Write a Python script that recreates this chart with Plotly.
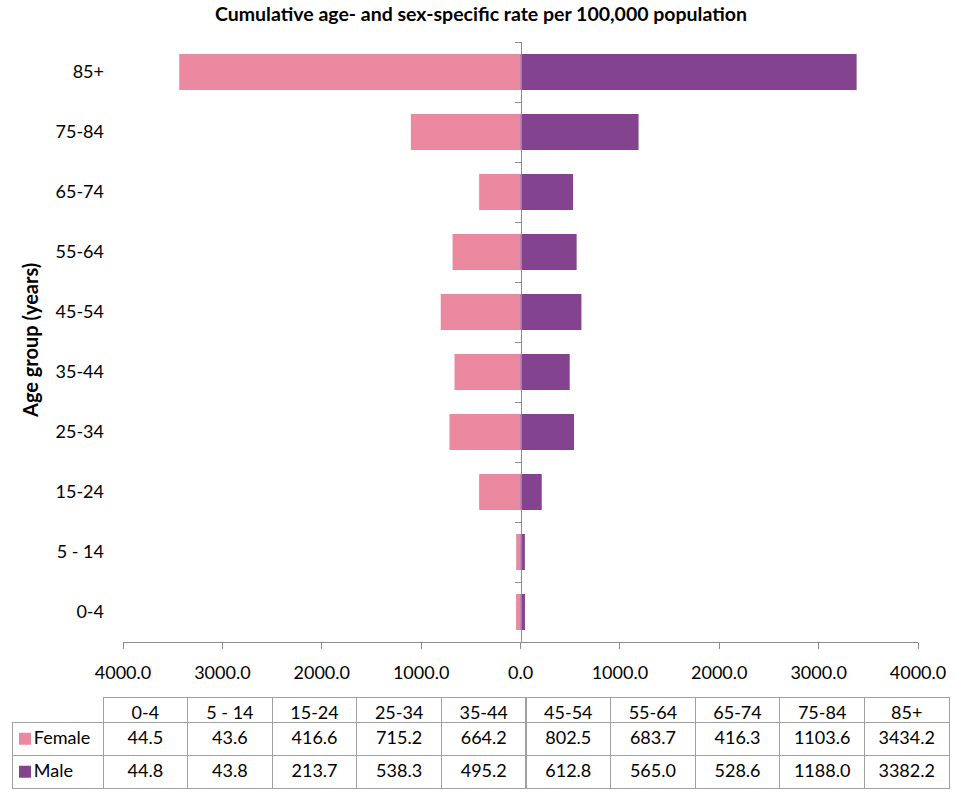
import plotly.graph_objects as go

categories = ["0-4", "5 - 14", "15-24", "25-34", "35-44", "45-54", "55-64", "65-74", "75-84", "85+"]
female = [44.5, 43.6, 416.6, 715.2, 664.2, 802.5, 683.7, 416.3, 1103.6, 3434.2]
male = [44.8, 43.8, 213.7, 538.3, 495.2, 612.8, 565.0, 528.6, 1188.0, 3382.2]
series_names = ["Female", "Male"]
x_ticks = [-4000, -3000, -2000, -1000, 0, 1000, 2000, 3000, 4000]

FEMALE_C = "#EA89A0"
MALE_C = "#84438E"
AXIS_C = "#8C8C8C"
GRID_C = "#A0A0A0"
FONT = "Lato"
W, H = 956, 795

pos = list(range(len(categories)))

fig = go.Figure()
# bars; legend keys (swatches only) sit in the table's first column
fig.add_trace(go.Bar(y=pos, x=[-v for v in female], orientation="h", marker_color=FEMALE_C,
                     marker_line_width=0, width=0.6, name=" ", xaxis="x", yaxis="y",
                     legend="legend", showlegend=True))
fig.add_trace(go.Bar(y=pos, x=male, orientation="h", marker_color=MALE_C,
                     marker_line_width=0, width=0.6, name=" ", xaxis="x", yaxis="y2",
                     legend="legend2", showlegend=True))

# Data table
col_w_label = 91
col_w = 84.6
ncat = len(categories)
pad = "\u00a0" * 3
label_col = [pad + n for n in series_names]
body_vals = [label_col] + [[f"{f:.1f}", f"{m:.1f}"] for f, m in zip(female, male)]
fig.add_trace(go.Table(
    domain=dict(x=[12 / W, 949 / W], y=[0, (H - 697) / H]),
    columnwidth=[col_w_label] + [col_w] * ncat,
    header=dict(values=[""] + categories, height=25,
                align="center",
                fill=dict(color=["rgba(0,0,0,0)"] + ["white"] * ncat),
                line=dict(color=GRID_C, width=[0] + [1] * ncat),
                font=dict(family=FONT, size=18, color="black")),
    cells=dict(values=body_vals, height=33,
               align=["left"] + ["center"] * ncat,
               fill=dict(color="white"),
               line=dict(color=GRID_C, width=1),
               font=dict(family=FONT, size=18, color="black")),
))

xdom = [123 / W, 918 / W]
ydom = [(H - 642) / H, (H - 42) / H]
legend_common = dict(xref="paper", yref="paper", xanchor="left", yanchor="middle",
                     bgcolor="rgba(0,0,0,0)", borderwidth=0,
                     font=dict(family=FONT, size=18, color="black"))
fig.update_layout(
    template="none",
    width=W, height=H,
    margin=dict(l=0, r=0, t=0, b=0, autoexpand=False),
    paper_bgcolor="white", plot_bgcolor="white",
    showlegend=True,
    barmode="overlay",
    font=dict(family=FONT, size=18, color="black"),
    legend=dict(x=5 / W, y=(H - 739) / H, **legend_common),
    legend2=dict(x=5 / W, y=(H - 772) / H, **legend_common),
    title=dict(text="<b>Cumulative age- and sex-specific rate per 100,000 population</b>",
               x=481 / W, xanchor="center", xref="container",
               y=1 - 14 / H, yanchor="middle", yref="container",
               font=dict(family=FONT, size=19.5, color="black")),
    xaxis=dict(domain=xdom, range=[-4000, 4000], tickvals=x_ticks,
               ticktext=[f"{abs(v):.1f}" for v in x_ticks],
               showline=True, linecolor=AXIS_C, linewidth=1,
               ticks="outside", ticklen=6, tickcolor=AXIS_C, tickwidth=1,
               showgrid=False, zeroline=False, anchor="y", automargin=False,
               ticklabelstandoff=8,
               tickfont=dict(family=FONT, size=18, color="black")),
    yaxis=dict(domain=ydom, range=[-0.5, 9.5], tickvals=pos, ticktext=categories,
               showline=False, ticks="", showgrid=False, zeroline=False,
               anchor="x", automargin=False, ticklabelstandoff=18,
               tickfont=dict(family=FONT, size=18, color="black")),
    yaxis2=dict(domain=ydom, range=[-0.5, 9.5], overlaying="y", anchor="free",
                position=520.5 / W, side="left", automargin=False,
                tickvals=[p - 0.5 for p in pos] + [9.5],
                ticks="outside", ticklen=6, tickcolor=AXIS_C, tickwidth=1,
                showticklabels=False, showline=True, linecolor=AXIS_C, linewidth=1,
                showgrid=False, zeroline=False),
    annotations=[dict(text="<b>Age group (years)</b>", textangle=-90,
                      x=30 / W, y=(H - 341) / H, xref="paper", yref="paper",
                      xanchor="center", yanchor="middle", showarrow=False,
                      font=dict(family=FONT, size=20, color="black"))],
)

fig.write_html("out.html")
